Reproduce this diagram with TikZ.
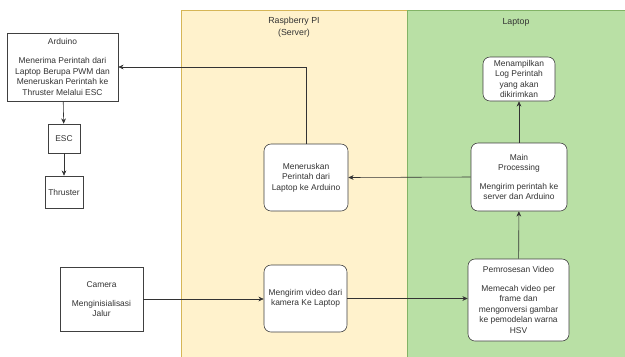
\documentclass[tikz,border=0pt]{standalone}
\usepackage{fontspec}
\setmainfont{Liberation Sans}
\usetikzlibrary{arrows.meta}
\definecolor{piFill}{HTML}{FFF2CC}
\definecolor{piLine}{HTML}{D6B656}
\definecolor{lapFill}{HTML}{B9E0A5}
\definecolor{lapLine}{HTML}{82B366}
\definecolor{txtGray}{HTML}{333333}
\tikzset{
	blok/.style={draw=black!75, fill=white, align=center, inner sep=1pt, line width=0.5pt,
		text=txtGray, font=\fontsize{7.2}{9}\selectfont},
	rblok/.style={blok, rounded corners=6pt},
	judul/.style={text=txtGray, align=center, font=\fontsize{7.5}{10}\selectfont},
	panah/.style={-{Stealth[length=4.5pt,width=4pt]}, draw=black!80, line width=0.5pt}
}

\begin{document}
\begin{tikzpicture}[x=0.03cm,y=-0.03cm]
	\useasboundingbox (0,0) rectangle (625,356);
	\clip (0,0) rectangle (625,356);
	
	% lanes
	\draw[piLine, fill=piFill] (181,10) rectangle (407,370);
	\draw[lapLine, fill=lapFill] (407,10) rectangle (640,370);
	\node[judul] (tPi) at (294,27) {Raspberry PI\\(Server)};
	\node[judul] (tLap) at (516,22) {Laptop};
	
	% boxes
	\node[blok, minimum width=3.33cm, minimum height=2.04cm] (arduino) at (62.5,67)
		{Arduino\\[7pt]Menerima Perintah dari\\Laptop Berupa PWM dan\\Meneruskan Perintah ke\\Thruster Melalui ESC};
	\node[blok, minimum width=0.96cm, minimum height=0.87cm] (esc) at (64,138.5) {ESC};
	\node[blok, minimum width=1.14cm, minimum height=0.96cm] (thruster) at (64,192) {Thruster};
	\node[blok, minimum width=2.49cm, minimum height=1.92cm] (camera) at (101.5,299)
		{Camera\\[7pt]Menginisialisasi\\Jalur};
	
	\node[rblok, minimum width=2.52cm, minimum height=2.01cm] (teruskan) at (306,177.5)
		{Meneruskan\\Perintah dari\\Laptop ke Arduino};
	\node[rblok, minimum width=2.49cm, minimum height=2.01cm] (kirimvid) at (305.5,298.5)
		{Mengirim video dari\\kamera Ke Laptop};
	
	\node[rblok, minimum width=2.16cm, minimum height=1.32cm] (log) at (519,79)
		{Menampilkan\\Log Perintah\\yang akan\\dikirimkan};
	\node[rblok, minimum width=2.88cm, minimum height=2.04cm] (main) at (519,177)
		{Main\\Processing\\[7pt]Mengirim perintah ke\\server dan Arduino};
	\node[rblok, minimum width=3.03cm, minimum height=2.46cm] (proses) at (518.5,300)
		{Pemrosesan Video\\[7pt]Memecah video per\\frame dan\\mengonversi gambar\\ke pemodelan warna\\HSV};
	
	% connectors
	\draw[panah] (teruskan.north) |- (arduino.east);
	\draw[panah] (arduino) -- (esc);
	\draw[panah] (esc) -- (thruster);
	\draw[panah] (main.west) -- (teruskan.east);
	\draw[panah] (main) -- (log);
	\draw[panah] (proses) -- (main);
	\draw[panah] (camera.east) -- (camera.east -| kirimvid.west);
	\draw[panah] (kirimvid.east) -- (kirimvid.east -| proses.west);
\end{tikzpicture}
\end{document}
